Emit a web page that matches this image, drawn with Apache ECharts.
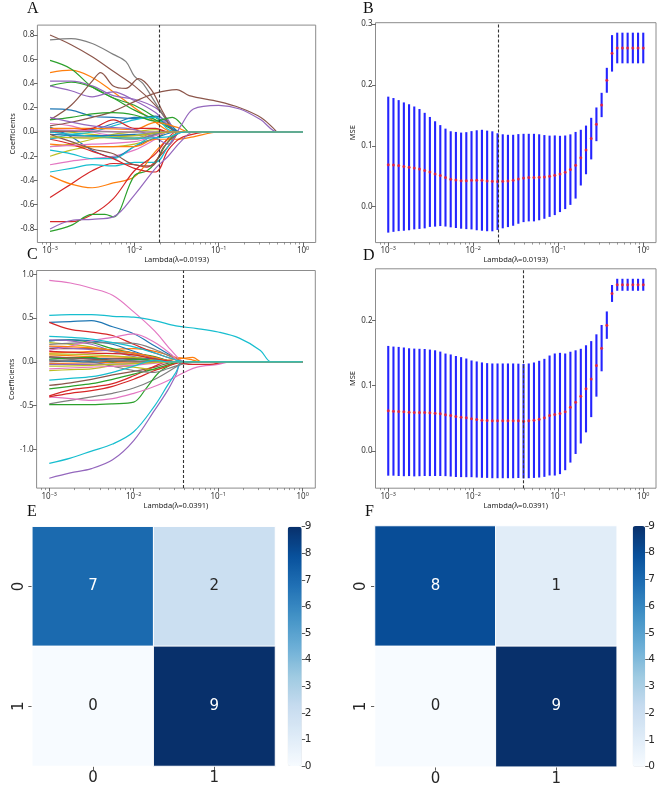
<!DOCTYPE html>
<html>
<head>
<meta charset="utf-8">
<script src="https://cdn.jsdelivr.net/npm/echarts@6/dist/echarts.min.js"></script>
<style>
html, body { margin: 0; padding: 0; background: #fff; }
#main { width: 661px; height: 788px; }
</style>
</head>
<body>
<div id="main"></div>
<script>
// matplotlib default colour cycle, path i gets palette[i % 10]
var palette = ['#1f77b4', '#ff7f0e', '#2ca02c', '#d62728', '#9467bd',
               '#8c564b', '#e377c2', '#7f7f7f', '#bcbd22', '#17becf'];

// ---- A: lasso paths, [log10(lambda), coefficient] ----
var pathsA = [
  [[-3,0.19],[-2.75,0.18],[-2.5,0.13],[-2.25,0.12],[-2,0.11],[-1.75,0.13],[-1.6,0.08],[-1.45,0],[0,0]],
  [[-3,0.49],[-2.75,0.51],[-2.5,0.45],[-2.25,0.33],[-2,0.2],[-1.75,0.08],[-1.6,0.01],[-1.5,0],[0,0]],
  [[-3,0.59],[-2.75,0.52],[-2.5,0.37],[-2.25,0.28],[-2,0.18],[-1.75,0.1],[-1.55,0.02],[-1.45,0],[0,0]],
  [[-3,-0.54],[-2.75,-0.43],[-2.5,-0.32],[-2.25,-0.26],[-2,-0.27],[-1.85,-0.29],[-1.7,-0.2],[-1.55,-0.08],[-1.45,0],[0,0]],
  [[-3,0.42],[-2.75,0.42],[-2.5,0.38],[-2.25,0.3],[-2,0.27],[-1.75,0.2],[-1.6,0.1],[-1.5,0],[0,0]],
  [[-3,0.8],[-2.75,0.72],[-2.5,0.62],[-2.25,0.5],[-2,0.38],[-1.75,0.22],[-1.6,0.08],[-1.5,0],[0,0]],
  [[-3,-0.27],[-2.75,-0.24],[-2.5,-0.22],[-2.25,-0.2],[-2,-0.15],[-1.75,-0.06],[-1.6,0],[0,0]],
  [[-3,0.76],[-2.75,0.77],[-2.5,0.73],[-2.25,0.64],[-2.1,0.58],[-2,0.46],[-1.9,0.4],[-1.75,0.24],[-1.6,0.08],[-1.5,0],[0,0]],
  [[-3,-0.2],[-2.75,-0.15],[-2.5,-0.12],[-2.25,-0.12],[-2,-0.1],[-1.75,-0.05],[-1.6,0],[0,0]],
  [[-3,-0.33],[-2.75,-0.3],[-2.5,-0.27],[-2.25,-0.28],[-2,-0.25],[-1.75,-0.25],[-1.6,-0.12],[-1.45,0],[0,0]],

  [[-3,0.04],[-2.75,-0.04],[-2.5,-0.15],[-2.25,-0.21],[-2,-0.12],[-1.75,-0.05],[-1.5,0],[0,0]],
  [[-3,-0.36],[-2.75,-0.43],[-2.5,-0.46],[-2.25,-0.42],[-2,-0.37],[-1.75,-0.16],[-1.6,-0.06],[-1.45,0],[0,0]],
  [[-3,0.38],[-2.75,0.41],[-2.5,0.37],[-2.25,0.28],[-2,0.22],[-1.75,0.12],[-1.6,0.05],[-1.45,0],[0,0]],
  [[-3,-0.74],[-2.75,-0.74],[-2.5,-0.68],[-2.25,-0.55],[-2,-0.32],[-1.75,-0.18],[-1.6,-0.05],[-1.5,0],[0,0]],
  [[-3,0.38],[-2.75,0.34],[-2.5,0.29],[-2.25,0.33],[-2,0.26],[-1.75,0.16],[-1.6,0.06],[-1.5,0],[0,0]],
  [[-3,0.1],[-2.75,0.22],[-2.5,0.42],[-2.4,0.49],[-2.25,0.38],[-2.1,0.36],[-1.95,0.44],[-1.8,0.35],[-1.65,0.15],[-1.5,0],[0,0]],
  [[-3,0.07],[-2.75,0.05],[-2.5,0],[-2.25,-0.03],[-2,-0.05],[-1.75,-0.02],[-1.6,0],[0,0]],
  [[-3,0],[-2.5,-0.03],[-2,-0.03],[-1.6,0],[0,0]],
  [[-3,-0.12],[-2.75,-0.1],[-2.5,-0.06],[-2.25,-0.02],[-2,0],[-1.75,0.02],[-1.6,0],[0,0]],
  [[-3,-0.15],[-2.75,-0.18],[-2.5,-0.22],[-2.25,-0.22],[-2,-0.12],[-1.75,-0.02],[-1.6,0],[0,0]],

  [[-3,0],[-2.5,0.02],[-2.2,0.08],[-2,0.12],[-1.75,0.12],[-1.6,0.05],[-1.45,0],[0,0]],
  [[-3,-0.1],[-2.5,-0.12],[-2,-0.12],[-1.75,-0.06],[-1.5,-0.06],[-1.3,-0.04],[-1,0],[0,0]],
  [[-3,-0.82],[-2.75,-0.77],[-2.5,-0.68],[-2.35,-0.68],[-2.25,-0.7],[-2,-0.36],[-1.85,-0.32],[-1.75,-0.25],[-1.6,-0.08],[-1.45,0],[0,0]],
  [[-3,-0.06],[-2.75,-0.1],[-2.5,-0.16],[-2.25,-0.22],[-2,-0.3],[-1.75,-0.33],[-1.6,-0.15],[-1.45,-0.05],[-1.25,-0.01],[-1.1,0],[0,0]],
  [[-3,-0.8],[-2.75,-0.73],[-2.5,-0.72],[-2.25,-0.7],[-2,-0.52],[-1.75,-0.3],[-1.6,-0.2],[-1.45,-0.08],[-1.3,0],[0,0]],
  [[-3,0.05],[-2.75,0.08],[-2.5,0.12],[-2.25,0.17],[-2,0.25],[-1.75,0.32],[-1.5,0.35],[-1.35,0.3],[-1,0.25],[-0.75,0.2],[-0.5,0.12],[-0.35,0.03],[-0.3,0],[0,0]],
  [[-3,-0.12],[-2.5,-0.1],[-2,-0.08],[-1.75,-0.03],[-1.6,0],[0,0]],
  [[-3,-0.05],[-2.5,-0.04],[-2,-0.06],[-1.6,0],[0,0]],
  [[-3,0.02],[-2.5,-0.02],[-2,-0.05],[-1.7,0],[0,0]],
  [[-3,-0.06],[-2.75,-0.02],[-2.5,0],[-2.25,0.05],[-2,0.1],[-1.75,0.12],[-1.6,0.02],[-1.45,0],[0,0]],

  [[-3,-0.02],[-2.5,-0.03],[-2,-0.02],[-1.6,0],[0,0]],
  [[-3,0.03],[-2.5,0.03],[-2,0.02],[-1.75,0.08],[-1.5,0.04],[-1.35,0],[0,0]],
  [[-3,0.1],[-2.75,0.12],[-2.5,0.15],[-2.25,0.16],[-2,0.14],[-1.75,0.09],[-1.55,0.12],[-1.4,0.03],[-1.35,0],[0,0]],
  [[-3,0],[-2.5,0.03],[-2.25,0.1],[-2,0.03],[-1.75,0.03],[-1.6,0],[0,0]],
  [[-3,0.12],[-2.5,0.05],[-2,0.02],[-1.75,-0.05],[-1.6,-0.1],[-1.45,0.05],[-1.3,0.19],[-1,0.22],[-0.75,0.19],[-0.5,0.1],[-0.3,0],[0,0]],
  [[-3,-0.02],[-2.75,-0.08],[-2.5,-0.14],[-2.25,-0.18],[-2,-0.27],[-1.8,-0.28],[-1.65,-0.12],[-1.5,-0.02],[-1.4,0],[0,0]],
  [[-3,0.02],[-2.5,0.01],[-2,0],[-1.6,0],[0,0]],
  [[-3,0.01],[-2,0],[0,0]],
  [[-3,-0.04],[-2.5,-0.05],[-2,-0.03],[-1.6,0],[0,0]],
  [[-3,0],[-2,-0.05],[-1.6,-0.04],[-1.4,0],[0,0]]
];

// ---- C: lasso paths ----
var pathsC = [
  [[-3,0.45],[-2.75,0.46],[-2.5,0.47],[-2.25,0.4],[-2,0.32],[-1.75,0.18],[-1.5,0.04],[-1.4,0],[0,0]],
  [[-3,0.1],[-2.5,0.12],[-2,0.15],[-1.75,0.12],[-1.5,0.05],[-1.4,0.04],[-1.3,0.02],[-1.2,0],[0,0]],
  [[-3,0.24],[-2.75,0.25],[-2.5,0.22],[-2.25,0.15],[-2,0.1],[-1.75,0.06],[-1.5,0],[0,0]],
  [[-3,0.45],[-2.75,0.37],[-2.5,0.34],[-2.25,0.3],[-2,0.2],[-1.75,0.1],[-1.5,0.02],[-1.4,0],[0,0]],
  [[-3,-1.33],[-2.75,-1.27],[-2.5,-1.22],[-2.25,-1.12],[-2,-0.9],[-1.75,-0.55],[-1.6,-0.33],[-1.5,-0.15],[-1.42,0],[0,0]],
  [[-3,-0.27],[-2.75,-0.24],[-2.5,-0.2],[-2.25,-0.15],[-2,-0.11],[-1.75,-0.06],[-1.5,0],[0,0]],
  [[-3,0.93],[-2.75,0.9],[-2.5,0.84],[-2.25,0.76],[-2,0.57],[-1.75,0.35],[-1.6,0.18],[-1.45,0.02],[-1.4,0],[0,0]],
  [[-3,-0.48],[-2.75,-0.44],[-2.5,-0.4],[-2.25,-0.36],[-2,-0.3],[-1.75,-0.2],[-1.5,-0.06],[-1.4,0],[0,0]],
  [[-3,0.22],[-2.75,0.2],[-2.5,0.17],[-2.25,0.12],[-2,0.08],[-1.75,0.03],[-1.5,0],[0,0]],
  [[-3,0.53],[-2.75,0.54],[-2.5,0.54],[-2.25,0.52],[-2,0.51],[-1.75,0.47],[-1.5,0.41],[-1.25,0.38],[-1,0.34],[-0.75,0.27],[-0.5,0.13],[-0.37,0],[0,0]],

  [[-3,0.24],[-2.75,0.25],[-2.5,0.24],[-2.25,0.2],[-2,0.12],[-1.75,0.04],[-1.5,0],[0,0]],
  [[-3,0.08],[-2.5,0.06],[-2,0.05],[-1.75,0.02],[-1.5,0],[0,0]],
  [[-3,-0.49],[-2.75,-0.49],[-2.5,-0.49],[-2.25,-0.48],[-2,-0.46],[-1.85,-0.3],[-1.7,-0.12],[-1.55,-0.03],[-1.45,0],[0,0]],
  [[-3,-0.39],[-2.75,-0.32],[-2.5,-0.29],[-2.25,-0.25],[-2,-0.16],[-1.75,-0.05],[-1.6,0],[0,0]],
  [[-3,0.25],[-2.75,0.24],[-2.5,0.2],[-2.25,0.12],[-2,0.06],[-1.75,0.02],[-1.5,0],[0,0]],
  [[-3,0.15],[-2.5,0.15],[-2,0.1],[-1.75,0.05],[-1.5,0],[0,0]],
  [[-3,-0.4],[-2.75,-0.42],[-2.5,-0.44],[-2.25,-0.42],[-2,-0.36],[-1.75,-0.28],[-1.5,-0.17],[-1.4,-0.12],[-1.25,-0.06],[-1,-0.03],[-0.85,0],[0,0]],
  [[-3,0.2],[-2.5,0.22],[-2,0.21],[-1.75,0.14],[-1.5,0.03],[-1.4,0],[0,0]],
  [[-3,-0.1],[-2.75,-0.09],[-2.5,-0.08],[-2.25,-0.05],[-2,-0.06],[-1.75,-0.09],[-1.6,-0.05],[-1.45,0],[0,0]],
  [[-3,-1.16],[-2.75,-1.1],[-2.5,-1.02],[-2.25,-0.94],[-2,-0.8],[-1.75,-0.5],[-1.6,-0.27],[-1.5,-0.12],[-1.42,0],[0,0]],

  [[-3,0.05],[-2.5,0.04],[-2,0.03],[-1.7,0.01],[-1.5,0],[0,0]],
  [[-3,-0.02],[-2,0],[-1.6,0.02],[-1.42,0.04],[-1.3,0.05],[-1.2,0],[0,0]],
  [[-3,-0.31],[-2.75,-0.28],[-2.5,-0.25],[-2.25,-0.2],[-2,-0.14],[-1.75,-0.08],[-1.5,-0.01],[-1.4,0],[0,0]],
  [[-3,-0.4],[-2.75,-0.36],[-2.5,-0.33],[-2.25,-0.28],[-2,-0.2],[-1.75,-0.1],[-1.5,-0.02],[-1.4,0],[0,0]],
  [[-3,0.17],[-2.5,0.14],[-2,0.1],[-1.6,0.01],[-1.5,0],[0,0]],
  [[-3,0],[-2.5,0.02],[-2,0.04],[-1.5,0],[0,0]],
  [[-3,0.13],[-2.75,0.18],[-2.5,0.24],[-2.25,0.28],[-2,0.32],[-1.75,0.22],[-1.55,0.08],[-1.45,0],[0,0]],
  [[-3,0.05],[-2.5,0],[-2.25,-0.05],[-2,-0.1],[-1.75,-0.12],[-1.6,-0.08],[-1.4,-0.02],[-1.2,0],[0,0]],
  [[-3,0.09],[-2.5,0.08],[-2,0.05],[-1.5,0],[0,0]],
  [[-3,0.29],[-2.75,0.28],[-2.5,0.26],[-2.25,0.22],[-2,0.17],[-1.75,0.1],[-1.5,0.02],[-1.4,0],[0,0]],

  [[-3,0.02],[-2.5,0],[-2,0.02],[-1.75,0.04],[-1.5,0],[0,0]],
  [[-3,0.18],[-2.5,0.16],[-2,0.1],[-1.75,0.05],[-1.5,0],[0,0]],
  [[-3,0.03],[-2.5,0.05],[-2.25,0],[-2,0.03],[-1.6,0],[0,0]],
  [[-3,0.12],[-2.5,0.1],[-2,0.08],[-1.75,0.03],[-1.5,0],[-1.35,-0.03],[-1.1,-0.03],[-0.9,0],[0,0]],
  [[-3,-0.03],[-2,-0.02],[-1.5,0],[0,0]],
  [[-3,0.06],[-2.5,0.03],[-2,0],[-1.5,0],[0,0]],
  [[-3,-0.08],[-2.5,-0.06],[-2,-0.04],[-1.5,0],[0,0]],
  [[-3,0.02],[-2,0.01],[-1.5,0],[0,0]],
  [[-3,-0.05],[-2.5,-0.04],[-2,-0.02],[-1.5,0],[0,0]],
  [[-3,-0.21],[-2.75,-0.19],[-2.5,-0.17],[-2.25,-0.12],[-2,-0.05],[-1.75,0.02],[-1.6,0],[0,0]]
];

// ---- B / D: cross-validated MSE on the lambda grid ----
// grid: 50 log-spaced lambdas, 1e-3 .. 1
var logLambda = [];
for (var i = 0; i < 50; i++) logLambda.push(-3 + 3 * i / 49);

var bMean = [0.069,0.0685,0.0674,0.0658,0.0647,0.0636,0.0619,0.0592,0.057,0.0537,
  0.051,0.0477,0.0449,0.0438,0.0427,0.0427,0.0433,0.0433,0.0433,0.0422,
  0.0416,0.0411,0.0416,0.0422,0.0433,0.0455,0.0471,0.0477,0.0477,0.0482,
  0.0488,0.0499,0.0515,0.0537,0.0564,0.0608,0.068,0.0805,0.0932,0.1118,
  0.1353,0.1671,0.2077,0.252,0.2608,0.2608,0.2608,0.2608,0.2608,0.2608];
var bErr = [0.1118,0.110,0.1077,0.1055,0.1036,0.101,0.0986,0.095,0.0904,0.0866,
  0.083,0.0805,0.079,0.079,0.079,0.0797,0.0808,0.0822,0.083,0.0827,
  0.0822,0.0795,0.0773,0.0759,0.0748,0.0737,0.0726,0.072,0.072,0.0707,
  0.0688,0.0668,0.0655,0.0627,0.0605,0.058,0.0548,0.0458,0.040,0.0342,
  0.0277,0.020,0.0205,0.030,0.0252,0.0252,0.0252,0.0252,0.0252,0.0252];

var dMean = [0.0614,0.0609,0.0604,0.0598,0.0593,0.0588,0.0588,0.0588,0.0583,0.0578,
  0.0568,0.0552,0.0542,0.0527,0.0517,0.0506,0.0491,0.0481,0.0471,0.0465,
  0.046,0.046,0.046,0.046,0.046,0.046,0.0455,0.046,0.047,0.0486,
  0.0506,0.0542,0.0557,0.0573,0.0598,0.067,0.0747,0.0839,0.0951,0.110,
  0.1309,0.1575,0.1928,0.2414,0.2547,0.2547,0.2547,0.2547,0.2547,0.2547];
var dErr = [0.0995,0.099,0.099,0.0987,0.098,0.098,0.0977,0.0974,0.097,0.0964,
  0.0954,0.094,0.0936,0.0928,0.092,0.091,0.0895,0.089,0.0885,0.088,
  0.088,0.088,0.088,0.088,0.088,0.0877,0.0877,0.088,0.0885,0.0895,
  0.0905,0.092,0.0936,0.093,0.0895,0.085,0.0795,0.0726,0.0668,0.0583,
  0.0478,0.0355,0.021,0.013,0.0092,0.0092,0.0092,0.0092,0.0092,0.0092];

var lambdaTop = 0.0193;     // chosen lambda, A / B
var lambdaBottom = 0.0391;  // chosen lambda, C / D

// ---- E / F: confusion matrices [row][col] ----
var classes = ['0', '1'];
var cmE = [[7, 2], [0, 9]];
var cmF = [[8, 1], [0, 9]];
var cbarTicks = [0, 1, 2, 3, 4, 5, 6, 7, 8, 9];

var blues = ['#f7fbff', '#deebf7', '#c6dbef', '#9ecae1', '#6baed6',
             '#4292c6', '#2171b5', '#08519c', '#08306b'];

var SANS = 'Noto Sans';
var HEAT = 'DejaVu Sans';
var FRAME = '#8c8c8c';

var majorX = [-3, -2, -1, 0];
var minorX = [];
for (var k = -4; k <= 0; k++) {
  for (var m = 2; m <= 9; m++) {
    var v = k + Math.log10(m);
    if (v > -3.15 && v < 0.15) minorX.push(v);
  }
}

// panel frames (pixel boxes) and data ranges
var panels = [
  {left: 37.4, top: 25.1, width: 278.3, height: 217.4, ymin: -0.9115, ymax: 0.8815,
   yticks: [-0.8, -0.6, -0.4, -0.2, 0, 0.2, 0.4, 0.6, 0.8], yname: 'Coefficients', ygap: 19,
   xname: 'Lambda(\u03bb=0.0193)'},
  {left: 375.5, top: 22.7, width: 280.5, height: 219.9, ymin: -0.0592, ymax: 0.3024,
   yticks: [0, 0.1, 0.2, 0.3], yname: 'MSE', ygap: 18, xname: 'Lambda(\u03bb=0.0193)'},
  {left: 36.6, top: 270.5, width: 278.7, height: 217.6, ymin: -1.443, ymax: 1.043,
   yticks: [-1, -0.5, 0, 0.5, 1], yname: 'Coefficients', ygap: 18, xname: 'Lambda(\u03bb=0.0391)'},
  {left: 375.5, top: 268.8, width: 280.5, height: 219.4, ymin: -0.0573, ymax: 0.2792,
   yticks: [0, 0.1, 0.2], yname: 'MSE', ygap: 18, xname: 'Lambda(\u03bb=0.0391)'}
];

var grids = [], xAxes = [], yAxes = [], series = [];

panels.forEach(function (p, gi) {
  grids.push({left: p.left, top: p.top, width: p.width, height: p.height,
              show: true, borderColor: FRAME, borderWidth: 1, backgroundColor: 'transparent'});
  xAxes.push({
    type: 'value', gridIndex: gi, min: -3.15, max: 0.15, position: 'bottom',
    axisLine: {show: false, onZero: false}, splitLine: {show: false},
    axisTick: {show: true, customValues: majorX, length: 3.5, lineStyle: {color: '#444', width: 0.8}},
    axisLabel: {
      customValues: majorX, margin: 3,
      formatter: function (val) {
        var e = Math.round(val);
        return '{b|10}{e|' + (e < 0 ? '\u2212' + (-e) : e) + '}';
      },
      rich: {
        b: {fontSize: 8, fontFamily: SANS, color: '#333', lineHeight: 11},
        e: {fontSize: 5.5, fontFamily: SANS, color: '#333', lineHeight: 6, verticalAlign: 'top'}
      }
    },
    name: p.xname, nameLocation: 'middle', nameGap: 12,
    nameTextStyle: {fontSize: 7.5, fontFamily: SANS, color: '#222'}
  });
  yAxes.push({
    type: 'value', gridIndex: gi, min: p.ymin, max: p.ymax, position: 'left',
    axisLine: {show: false, onZero: false}, splitLine: {show: false},
    axisTick: {show: true, customValues: p.yticks, length: 3.5, lineStyle: {color: '#444', width: 0.8}},
    axisLabel: {customValues: p.yticks, margin: 3, fontSize: 8, fontFamily: SANS, color: '#333',
                formatter: function (val) { return val.toFixed(1); }},
    name: p.yname, nameLocation: 'middle', nameGap: p.ygap, nameRotate: 90,
    nameTextStyle: {fontSize: 7.5, fontFamily: SANS, color: '#222'}
  });
});
// minor log ticks, xAxis 4..7
panels.forEach(function (p, gi) {
  xAxes.push({
    type: 'value', gridIndex: gi, min: -3.15, max: 0.15, position: 'bottom',
    axisLine: {show: false, onZero: false}, splitLine: {show: false}, axisLabel: {show: false},
    axisTick: {show: true, customValues: minorX, length: 2, lineStyle: {color: '#555', width: 0.6}}
  });
});

function dashed(lam) {
  return {
    silent: true, symbol: ['none', 'none'], label: {show: false},
    lineStyle: {type: [3, 2], color: '#333', width: 1.1},
    data: [{xAxis: Math.log10(lam)}]
  };
}

function addPaths(paths, gi, lam) {
  paths.forEach(function (p, i) {
    var s = {
      type: 'line', xAxisIndex: gi, yAxisIndex: gi, data: p, showSymbol: false,
      smooth: 0.35, silent: true, z: 2,
      lineStyle: {width: 1.2, color: palette[i % 10]}, itemStyle: {color: palette[i % 10]}
    };
    if (i === paths.length - 1) s.markLine = dashed(lam);
    series.push(s);
  });
}

function addCV(mean, err, gi, lam) {
  var d = logLambda.map(function (x, i) { return [x, mean[i], err[i]]; });
  series.push({
    type: 'custom', xAxisIndex: gi, yAxisIndex: gi, data: d, z: 2, silent: true,
    encode: {x: 0, y: 1},
    renderItem: function (params, api) {
      var x = api.value(0), mu = api.value(1), e = api.value(2);
      var lo = api.coord([x, mu - e]), hi = api.coord([x, mu + e]);
      return {type: 'line', shape: {x1: lo[0], y1: lo[1], x2: hi[0], y2: hi[1]},
              style: {stroke: '#2424ff', lineWidth: 2.1}};
    }
  });
  series.push({
    type: 'scatter', xAxisIndex: gi, yAxisIndex: gi, z: 3, silent: true,
    data: logLambda.map(function (x, i) { return [x, mean[i]]; }),
    symbol: 'circle', symbolSize: 3, itemStyle: {color: '#ff2020'},
    markLine: dashed(lam)
  });
}

addPaths(pathsA, 0, lambdaTop);
addCV(bMean, bErr, 1, lambdaTop);
addPaths(pathsC, 2, lambdaBottom);
addCV(dMean, dErr, 3, lambdaBottom);

// ---- heatmaps ----
var heat = [
  {cm: cmE, left: 32.3, top: 526.7, width: 242.7, height: 239.3, cb: {left: 287.7, width: 14}},
  {cm: cmF, left: 375, top: 526, width: 241.7, height: 240.7, cb: {left: 632.7, width: 12.5}}
];
var visualMaps = [];
heat.forEach(function (h, j) {
  var gi = 4 + j;
  grids.push({left: h.left, top: h.top, width: h.width, height: h.height});
  xAxes.push({
    type: 'category', gridIndex: gi, data: classes, position: 'bottom',
    axisLine: {show: false, onZero: false}, splitLine: {show: false},
    axisTick: {show: true, alignWithLabel: true, length: 4, lineStyle: {color: '#333', width: 0.8}},
    axisLabel: {fontSize: 15, fontFamily: HEAT, color: '#262626', margin: 5}
  });
  yAxes.push({
    type: 'category', gridIndex: gi, data: classes, inverse: true,
    axisLine: {show: false, onZero: false}, splitLine: {show: false},
    axisTick: {show: true, alignWithLabel: true, length: 4, lineStyle: {color: '#333', width: 0.8}},
    axisLabel: {fontSize: 15, fontFamily: HEAT, color: '#262626', margin: 6, rotate: 90}
  });
  var data = [];
  h.cm.forEach(function (row, r) {
    row.forEach(function (val, c) {
      data.push({value: [c, r, val], label: {color: val > 4.5 ? '#ffffff' : '#262626'}});
    });
  });
  visualMaps.push({
    type: 'continuous', seriesIndex: series.length, min: 0, max: 9,
    calculable: false, orient: 'vertical', padding: 0,
    left: h.cb.left, top: h.top, itemWidth: h.cb.width, itemHeight: h.height,
    inRange: {color: blues}
  });
  series.push({
    type: 'heatmap', xAxisIndex: 8 + j, yAxisIndex: 4 + j, data: data, silent: true,
    itemStyle: {borderColor: '#ffffff', borderWidth: 1},
    label: {show: true, fontSize: 15, fontFamily: HEAT,
            formatter: function (p) { return p.value[2]; }},
    emphasis: {disabled: true}
  });
});
// colour bar tick axes
heat.forEach(function (h, j) {
  var gi = 6 + j;
  grids.push({left: h.cb.left, top: h.top, width: h.cb.width, height: h.height});
  xAxes.push({type: 'value', gridIndex: gi, show: false, min: 0, max: 1});
  yAxes.push({
    type: 'value', gridIndex: gi, position: 'right', min: 0, max: 9,
    axisLine: {show: false, onZero: false}, splitLine: {show: false},
    axisTick: {show: true, customValues: cbarTicks, length: 3.5, lineStyle: {color: '#333', width: 0.8}},
    axisLabel: {customValues: cbarTicks, fontSize: 10.5, fontFamily: HEAT, color: '#262626', margin: 3}
  });
  series.push({type: 'scatter', xAxisIndex: 10 + j, yAxisIndex: 6 + j, data: [], silent: true});
});

var letterFont = '16px "Liberation Serif"';
var letters = [
  ['A', 27, 1], ['B', 363, 1], ['C', 27, 247], ['D', 363, 248], ['E', 27, 504], ['F', 365, 504]
];

var chart = echarts.init(document.getElementById('main'), null, {renderer: 'canvas'});
chart.setOption({
  animation: false,
  backgroundColor: '#ffffff',
  grid: grids,
  xAxis: xAxes,
  yAxis: yAxes,
  visualMap: visualMaps,
  series: series,
  graphic: letters.map(function (l) {
    return {type: 'text', left: l[1], top: l[2], silent: true,
            style: {text: l[0], font: letterFont, fill: '#111'}};
  })
});
</script>
</body>
</html>
